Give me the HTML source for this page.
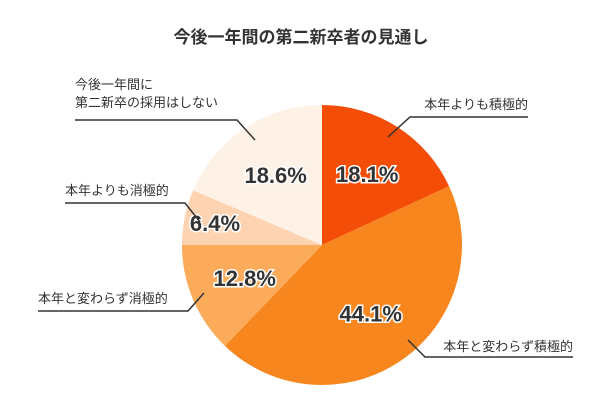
<!DOCTYPE html>
<html><head><meta charset="utf-8"><style>
body{margin:0;background:#fff;}
svg text{font-family:"Liberation Sans","Noto Sans CJK JP",sans-serif;}
</style></head><body>
<svg width="602" height="409" viewBox="0 0 602 409">
<text x="301" y="43" text-anchor="middle" font-size="17" font-weight="bold" fill="#333">今後一年間の第二新卒者の見通し</text>
<g id="slices"></g>
<g id="labels"></g>
<g id="leaders" stroke="#333" stroke-width="1.5" fill="none">
<polyline points="388,137 410,117 528,117"/>
<polyline points="408,340 425,357 573,357"/>
<polyline points="204,293 188,311 38,311"/>
<polyline points="200,222 185,203 65,203"/>
<polyline points="255,140 237,120 75,120"/>
</g>
<g font-size="13" fill="#333">
<text x="528" y="109" text-anchor="end">本年よりも積極的</text>
<text x="573" y="351" text-anchor="end">本年と変わらず積極的</text>
<text x="38" y="303">本年と変わらず消極的</text>
<text x="65" y="195">本年よりも消極的</text>
<text x="75" y="89">今後一年間に</text>
<text x="75" y="107">第二新卒の採用はしない</text>
</g>
</svg>
<script>
const categories=["本年よりも積極的","本年と変わらず積極的","本年と変わらず消極的","本年よりも消極的","今後一年間に第二新卒の採用はしない"];
const values=[18.1,44.1,12.8,6.4,18.6];
const valueLabels=["18.1%","44.1%","12.8%","6.4%","18.6%"];
const colors=["#f44d08","#f8861f","#fbab5a","#fdd3b1","#fef2e6"];
const cx=322,cy=245,r=140;
const ns="http://www.w3.org/2000/svg";
const total=values.reduce((a,b)=>a+b,0);
const sg=document.getElementById('slices'),lg=document.getElementById('labels');
let a0=-Math.PI/2;
values.forEach((v,i)=>{
 const a1=a0+v/total*2*Math.PI;
 const x0=cx+r*Math.cos(a0),y0=cy+r*Math.sin(a0),x1=cx+r*Math.cos(a1),y1=cy+r*Math.sin(a1);
 const p=document.createElementNS(ns,'path');
 p.setAttribute('d',`M${cx},${cy}L${x0},${y0}A${r},${r} 0 ${a1-a0>Math.PI?1:0} 1 ${x1},${y1}Z`);
 p.setAttribute('fill',colors[i]);
 
 
 sg.appendChild(p);
 const am=(a0+a1)/2,lr=v<10?r*0.78:r*0.6;
 const t=document.createElementNS(ns,'text');
 t.setAttribute('x',cx+lr*Math.cos(am));
 t.setAttribute('y',cy+lr*Math.sin(am)+8);
 t.setAttribute('text-anchor','middle');
 t.setAttribute('font-size','22');
 t.setAttribute('font-weight','bold');
 t.setAttribute('fill','#333');
 t.setAttribute('stroke','#fff');
 t.setAttribute('stroke-width','3');
 t.setAttribute('paint-order','stroke');
 t.textContent=valueLabels[i];
 
 
 lg.appendChild(t);
 a0=a1;
});
</script>
</body></html>
